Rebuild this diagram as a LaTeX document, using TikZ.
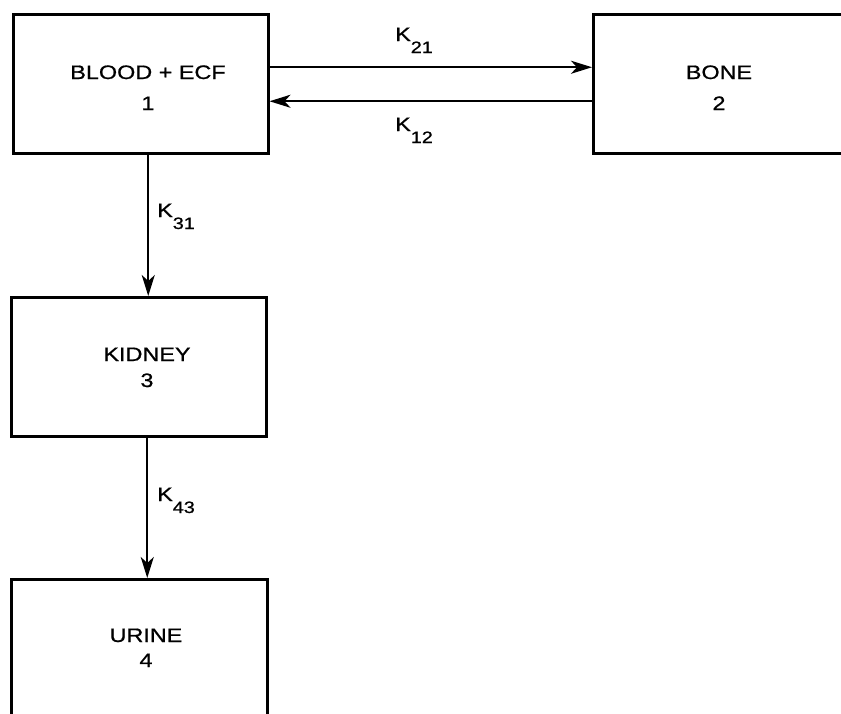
\documentclass[tikz,border=0pt]{standalone}
\usepackage{fontspec}
\setmainfont{Liberation Sans}[FakeStretch=1.2,FakeBold=0.8]
\usetikzlibrary{arrows.meta}
\newcommand{\Ksub}[1]{K\raisebox{-12pt}{\fontsize{16.5}{16.5}\selectfont #1}}
\begin{document}
\begin{tikzpicture}[x=1pt,y=-1pt,
  box/.style={draw, line width=2.5pt, minimum width=255pt, minimum height=139pt, inner sep=0pt, anchor=north west},
  txt/.style={font=\fontsize{19.5}{24}\selectfont, inner sep=0pt, anchor=base},
  klbl/.style={font=\fontsize{19.5}{24}\selectfont, inner sep=0pt, anchor=base west},
  flow/.style={line width=2.3pt, -{Stealth[length=21pt,width=13pt,inset=6pt]}}]
\useasboundingbox (0,0) rectangle (841,713);
\clip (0,0) rectangle (841,713);
% boxes
\node[box] (b1) at (12,13) {};
\node[box] (b2) at (592,13) {};
\node[box] (b3) at (10,296) {};
\node[box, minimum width=256pt] (b4) at (10,578) {};
% box texts
\node[txt] (t1a) at (148,79) {BLOOD + ECF};
\node[txt] (t1b) at (148,110) {1};
\node[txt] (t2a) at (719,79) {BONE};
\node[txt] (t2b) at (719,110) {2};
\node[txt] (t3a) at (147,361) {KIDNEY};
\node[txt] (t3b) at (147,387) {3};
\node[txt] (t4a) at (146,642) {URINE};
\node[txt] (t4b) at (146,667) {4};
% connectors
\draw[flow] ([yshift=16.5pt]b1.east) -- ([yshift=16.5pt]b1.east -| b2.west);
\draw[flow] ([yshift=-17.5pt]b2.west) -- ([yshift=-17.5pt]b2.west -| b1.east);
\draw[flow] ([xshift=7.5pt]b1.south) -- ([xshift=7.5pt]b1.south |- b3.north);
\draw[flow] ([xshift=8.5pt]b3.south) -- ([xshift=8.5pt]b3.south |- b4.north);
% rate labels
\node[klbl] (k21) at (395,41) {\Ksub{21}};
\node[klbl] (k12) at (395,131) {\Ksub{12}};
\node[klbl] (k31) at (157,217) {\Ksub{31}};
\node[klbl] (k43) at (157,501) {\Ksub{43}};
\end{tikzpicture}
\end{document}
